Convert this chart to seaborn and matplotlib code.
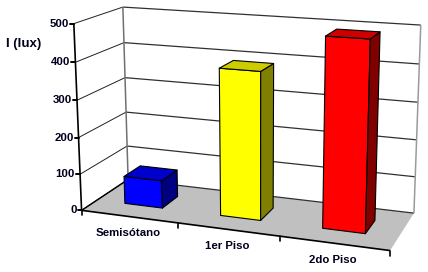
"""Excel-style 3D column chart of illuminance per floor."""
import matplotlib
matplotlib.use("Agg")

import matplotlib.pyplot as plt
import numpy as np
import seaborn as sns

FLOORS = ["Semisótano", "1er Piso", "2do Piso"]
LUX = [76, 393, 493]
BAR_COLORS = ["#0000FF", "#FFFF00", "#FF0000"]
Y_TICKS = [0, 100, 200, 300, 400, 500]
Y_LABEL = "I (lux)"

# chart box (category, depth, lux) -> where it lands in the picture, used to fit the camera
BOX_POINTS = [
    (0, 0, 0, 82, 210), (0, 0, 100, 80, 174), (0, 0, 200, 78.5, 137), (0, 0, 300, 77, 100),
    (0, 0, 400, 75, 62), (0, 0, 500, 74, 24),
    (0, 1, 0, 128, 179), (0, 1, 100, 127, 146), (0, 1, 200, 126, 112), (0, 1, 300, 125, 78),
    (0, 1, 400, 124, 43), (0, 1, 500, 123, 7),
    (3, 1, 0, 414, 213), (3, 1, 100, 415, 177), (3, 1, 200, 417, 140), (3, 1, 300, 418, 102),
    (3, 1, 400, 419, 64), (3, 1, 500, 421, 25),
    (3, 0, 0, 390, 249), (1, 0, 0, 178, 224), (2, 0, 0, 280, 238),
]
BAR_DEPTH = (0.32, 0.68)
TEXT_COLOR = "#00001E"


def fit_camera(points):
    """Direct linear transform from box corners to picture pixels."""
    rows = []
    for u, v, w, px, py in points:
        X = [u / 3, v, w / 500, 1]
        rows.append(X + [0, 0, 0, 0] + [-px / 400 * c for c in X])
        rows.append([0, 0, 0, 0] + X + [-py / 400 * c for c in X])
    _, _, vt = np.linalg.svd(np.array(rows))
    return vt[-1].reshape(3, 4)


CAMERA = fit_camera(BOX_POINTS)


def project(u, v, w):
    x, y, s = CAMERA @ np.array([u / 3, v, w / 500, 1])
    return x / s * 400, y / s * 400


def face(ax, corners, color, zorder):
    pts = [project(*c) for c in corners]
    ax.fill(*zip(*pts), facecolor=color, edgecolor="black", lw=0.8, zorder=zorder, joinstyle="round")


def segment(ax, a, b, color="black", lw=0.8, zorder=2):
    pa, pb = project(*a), project(*b)
    ax.plot([pa[0], pb[0]], [pa[1], pb[1]], color=color, lw=lw, zorder=zorder, solid_capstyle="butt")


sns.set_theme(style="white")
plt.rcParams["font.family"] = ["Liberation Sans", "DejaVu Sans"]

# seaborn lays out the bars, their rectangles then go through the camera
fig_bars, ax_bars = plt.subplots()
sns.barplot(x=FLOORS, y=LUX, hue=FLOORS, palette=BAR_COLORS, width=0.4, saturation=1,
            legend=False, ax=ax_bars)
bars = [(p.get_x() + 0.5, p.get_width(), p.get_height(), p.get_facecolor()) for p in ax_bars.patches]
plt.close(fig_bars)

fig = plt.figure(figsize=(4.28, 2.72), dpi=100)
ax = fig.add_axes([0, 0, 1, 1])
ax.set_xlim(0, 428)
ax.set_ylim(272, 0)
ax.axis("off")

# floor
floor = [project(0, 0, 0), project(0, 1, 0), project(3, 1, 0), project(3, 0, 0)]
ax.fill(*zip(*floor), facecolor="#C0C0C0", edgecolor="none", zorder=1)

# walls and grid
for tick in Y_TICKS:
    segment(ax, (0, 1, tick), (3, 1, tick), color="#303030", lw=0.9)
    segment(ax, (0, 0, tick), (0, 1, tick), color="#202020", lw=0.7)
segment(ax, (0, 1, 0), (0, 1, 500), color="#707070", lw=1.1)
segment(ax, (3, 1, 0), (3, 1, 500), color="#9A9A9A", lw=1.1)
segment(ax, (0, 0, 0), (0, 0, 500), lw=1.2, zorder=3)
segment(ax, (0, 0, 0), (3, 0, 0), lw=1.2, zorder=3)
segment(ax, (0, 0, 0), (0, 1, 0), lw=1.0, zorder=3)

# ticks and labels
for tick in Y_TICKS:
    x, y = project(0, 0, tick)
    ax.plot([x - 4, x], [y, y], color="black", lw=1.4, zorder=3)
    ax.text(x - 5, y, str(tick), ha="right", va="center", fontsize=8.2,
            fontweight="bold", color=TEXT_COLOR)
for i in range(len(FLOORS) + 1):
    x, y = project(i, 0, 0)
    ax.plot([x, x], [y, y + 5], color="black", lw=1.2, zorder=3)
for i, name in enumerate(FLOORS):
    x, y = project(i + 0.5, 0, 0)
    ax.text(x - 1, y + 16.5, name, ha="center", va="center", fontsize=8.2,
            fontweight="bold", color=TEXT_COLOR)
ax.text(6.5, 44, Y_LABEL, ha="left", va="center", fontsize=9.5, fontweight="bold", color=TEXT_COLOR)

# bars, left to right so nearer faces sit on top
v0, v1 = BAR_DEPTH
for i, (left, width, height, color) in enumerate(bars):
    right = left + width
    rgb = np.array(color[:3])
    z = 5 + i
    face(ax, [(left, v0, 0), (right, v0, 0), (right, v0, height), (left, v0, height)], rgb, z)
    face(ax, [(right, v0, 0), (right, v1, 0), (right, v1, height), (right, v0, height)], rgb * 0.5, z)
    face(ax, [(left, v0, height), (right, v0, height), (right, v1, height), (left, v1, height)], rgb * 0.8, z)

fig.savefig("out.png", dpi=100)
